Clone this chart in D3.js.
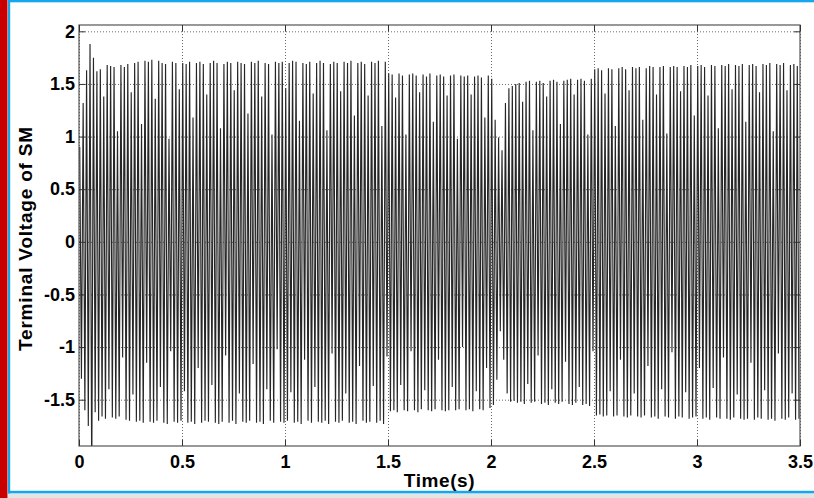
<!DOCTYPE html>
<html>
<head>
<meta charset="utf-8">
<script src="https://cdn.jsdelivr.net/npm/d3@7"></script>
<style>
  html, body { margin: 0; padding: 0; background: #ffffff; }
  svg { display: block; }
  text { font-family: "Liberation Sans", Arial, Helvetica, sans-serif; font-weight: bold; fill: #000; }
</style>
</head>
<body>
<svg id="chart" width="814" height="498"></svg>
<script>
// ---------------- DATA ----------------
const freqHz = 60;              // cycles per second of the voltage waveform
const upperPhase = 0.21;        // fraction of a cycle at which the positive peaks occur
const lowerPhase = 0.71;        // fraction of a cycle at which the negative peaks occur

// positive peak of each cycle (p.u.)
const upperPeaks = [
  0.90, 1.32, 1.63, 1.88, 1.75, 1.62, 1.64, 1.38, 1.68, 1.67,
  1.66, 1.05, 1.68, 1.66, 1.69, 1.42, 1.70, 1.71, 1.12, 1.72,
  1.71, 1.73, 1.36, 1.72, 1.70, 1.69, 0.98, 1.71, 1.70, 1.45,
  1.70, 1.69, 1.71, 1.18, 1.70, 1.71, 1.69, 1.40, 1.70, 1.72,
  1.70, 1.08, 1.69, 1.71, 1.70, 1.44, 1.71, 1.70, 1.69, 1.22,
  1.71, 1.70, 1.72, 1.38, 1.70, 1.69, 1.02, 1.71, 1.70, 1.71,
  1.46, 1.70, 1.72, 1.71, 1.15, 1.70, 1.69, 1.71, 1.41, 1.70,
  1.72, 1.70, 1.06, 1.69, 1.71, 1.70, 1.43, 1.71, 1.70, 1.72,
  1.20, 1.70, 1.71, 1.69, 1.39, 1.71, 1.70, 1.72, 1.10, 1.71,
  1.60, 1.59, 1.37, 1.60, 1.58, 1.02, 1.59, 1.60, 1.58, 1.42,
  1.59, 1.57, 1.60, 1.14, 1.58, 1.59, 1.57, 1.39, 1.58, 1.59,
  0.98, 1.58, 1.57, 1.58, 1.40, 1.57, 1.58, 1.56, 1.18, 1.58,
  1.55, 1.16, 0.99, 0.87, 1.32, 1.46, 1.48, 1.50,
  1.51, 1.33, 1.52, 1.53, 1.06, 1.52, 1.53, 1.51, 1.38, 1.53, 1.54, 1.52,
  1.12, 1.53, 1.54, 1.55, 1.40, 1.54, 1.55, 1.53, 1.02, 1.55,
  1.64, 1.65, 1.63, 1.41, 1.65, 1.64, 1.10, 1.65, 1.66, 1.64,
  1.44, 1.66, 1.65, 1.66, 1.16, 1.65, 1.67, 1.66, 1.40, 1.66,
  1.67, 1.03, 1.66, 1.67, 1.66, 1.43, 1.67, 1.66, 1.68, 1.20,
  1.67, 1.68, 1.66, 1.39, 1.68, 1.67, 1.08, 1.68, 1.67, 1.69,
  1.45, 1.68, 1.67, 1.69, 1.14, 1.68, 1.69, 1.67, 1.42, 1.69,
  1.68, 1.70, 1.05, 1.69, 1.68, 1.70, 1.44, 1.68, 1.69, 1.67
];

// negative peak of each cycle (p.u.)
const lowerPeaks = [
  -1.30, -1.60, -1.75, -2.30, -1.62, -1.70, -1.66, -1.68, -1.40, -1.67,
  -1.68, -1.66, -1.10, -1.69, -1.70, -1.45, -1.71, -1.70, -1.72, -1.15,
  -1.71, -1.72, -1.70, -1.38, -1.72, -1.73, -1.04, -1.71, -1.72, -1.70,
  -1.42, -1.72, -1.71, -1.73, -1.20, -1.72, -1.70, -1.71, -1.36, -1.72,
  -1.73, -1.71, -1.08, -1.72, -1.70, -1.73, -1.44, -1.71, -1.72, -1.70,
  -1.16, -1.72, -1.71, -1.73, -1.40, -1.70, -1.72, -1.02, -1.71, -1.72,
  -1.70, -1.43, -1.72, -1.71, -1.73, -1.12, -1.70, -1.72, -1.38, -1.71,
  -1.72, -1.70, -1.73, -1.06, -1.71, -1.72, -1.70, -1.44, -1.72, -1.71,
  -1.73, -1.18, -1.70, -1.72, -1.71, -1.37, -1.72, -1.70, -1.73, -1.09,
  -1.61, -1.60, -1.62, -1.36, -1.60, -1.61, -1.04, -1.60, -1.62, -1.59,
  -1.41, -1.60, -1.61, -1.59, -1.12, -1.60, -1.61, -1.60, -1.38, -1.60,
  -1.59, -1.00, -1.60, -1.59, -1.61, -1.42, -1.59, -1.60, -1.20, -1.58,
  -1.55, -1.31, -0.85, -1.12, -1.44, -1.52, -1.51, -1.53,
  -1.52, -1.54, -1.35, -1.53, -1.52, -1.08, -1.54, -1.53, -1.55, -1.40, -1.53, -1.54,
  -1.52, -1.14, -1.54, -1.55, -1.53, -1.38, -1.55, -1.54, -1.56, -1.04,
  -1.65, -1.64, -1.66, -1.65, -1.42, -1.66, -1.65, -1.12, -1.66, -1.67,
  -1.65, -1.44, -1.66, -1.67, -1.65, -1.18, -1.67, -1.66, -1.68, -1.40,
  -1.66, -1.67, -1.05, -1.68, -1.66, -1.67, -1.43, -1.68, -1.67, -1.66,
  -1.20, -1.68, -1.67, -1.69, -1.39, -1.67, -1.68, -1.10, -1.68, -1.69,
  -1.67, -1.45, -1.68, -1.69, -1.68, -1.15, -1.69, -1.67, -1.68, -1.41,
  -1.69, -1.68, -1.70, -1.06, -1.68, -1.69, -1.67, -1.44, -1.69, -1.68
];

const xTicks = [0, 0.5, 1, 1.5, 2, 2.5, 3, 3.5];
const xTickLabels = ["0", "0.5", "1", "1.5", "2", "2.5", "3", "3.5"];
const yTicks = [-1.5, -1, -0.5, 0, 0.5, 1, 1.5, 2];
const yTickLabels = ["-1.5", "-1", "-0.5", "0", "0.5", "1", "1.5", "2"];
const xDomain = [0, 3.5];
const yDomain = [-1.94, 2.06];
const xLabel = "Time(s)";
const yLabel = "Terminal Voltage of SM";

// ---------------- LAYOUT ----------------
const W = 814, H = 498;
const plot = { left: 79, right: 800, top: 25, bottom: 446 };

const svg = d3.select("#chart");

// frame decorations (slide border)
svg.append("rect").attr("x", 0).attr("y", 0).attr("width", 7.5).attr("height", H).attr("fill", "#c80000");
svg.append("rect").attr("x", 8).attr("y", 0).attr("width", 2.2).attr("height", 493.5).attr("fill", "#15a6ec");
svg.append("rect").attr("x", 8).attr("y", 0).attr("width", W - 8).attr("height", 2.3).attr("fill", "#15a6ec");
svg.append("rect").attr("x", 8).attr("y", 490.8).attr("width", W - 8).attr("height", 2.6).attr("fill", "#15a6ec");
svg.append("rect").attr("x", 8).attr("y", 494).attr("width", W - 8).attr("height", 4).attr("fill", "#e4e4e4");

const x = d3.scaleLinear().domain(xDomain).range([plot.left, plot.right]);
const y = d3.scaleLinear().domain(yDomain).range([plot.bottom, plot.top]);

// clip
svg.append("defs").append("clipPath").attr("id", "clip")
  .append("rect").attr("x", plot.left).attr("y", plot.top)
  .attr("width", plot.right - plot.left).attr("height", plot.bottom - plot.top);

// grid
const gridX = svg.append("g").attr("transform", `translate(0,${plot.bottom})`)
  .call(d3.axisBottom(x).tickValues(xTicks).tickSize(-(plot.bottom - plot.top)).tickFormat(""));
const gridY = svg.append("g").attr("transform", `translate(${plot.left},0)`)
  .call(d3.axisLeft(y).tickValues(yTicks).tickSize(-(plot.right - plot.left)).tickFormat(""));
[gridX, gridY].forEach(g => {
  g.select(".domain").remove();
  g.selectAll(".tick line").attr("stroke", "#444").attr("stroke-width", 0.8).attr("stroke-dasharray", "1,2");
});

// waveform points (alternating positive / negative peaks)
const pts = [];
upperPeaks.forEach((v, k) => {
  pts.push([(k + upperPhase) / freqHz, v]);
  pts.push([(k + lowerPhase) / freqHz, lowerPeaks[k]]);
});

svg.append("path")
  .datum(pts)
  .attr("clip-path", "url(#clip)")
  .attr("fill", "none")
  .attr("stroke", "#262626")
  .attr("stroke-width", 1.15)
  .attr("stroke-linejoin", "miter")
  .attr("stroke-miterlimit", 1)
  .attr("d", d3.line().x(d => x(d[0])).y(d => y(d[1])));

// axes box
svg.append("rect").attr("x", plot.left).attr("y", plot.top)
  .attr("width", plot.right - plot.left).attr("height", plot.bottom - plot.top)
  .attr("fill", "none").attr("stroke", "#555").attr("stroke-width", 1.2);

const fmtX = v => xTickLabels[xTicks.indexOf(v)];
const fmtY = v => yTickLabels[yTicks.indexOf(v)];

const axB = svg.append("g").attr("transform", `translate(0,${plot.bottom})`)
  .call(d3.axisBottom(x).tickValues(xTicks).tickSizeInner(-6).tickSizeOuter(0).tickPadding(9).tickFormat(fmtX));
const axL = svg.append("g").attr("transform", `translate(${plot.left},0)`)
  .call(d3.axisLeft(y).tickValues(yTicks).tickSizeInner(-6).tickSizeOuter(0).tickPadding(4).tickFormat(fmtY));
const axT = svg.append("g").attr("transform", `translate(0,${plot.top})`)
  .call(d3.axisTop(x).tickValues(xTicks).tickSizeInner(-6).tickSizeOuter(0).tickFormat(""));
const axR = svg.append("g").attr("transform", `translate(${plot.right},0)`)
  .call(d3.axisRight(y).tickValues(yTicks).tickSizeInner(-6).tickSizeOuter(0).tickFormat(""));
[axB, axL, axT, axR].forEach(g => {
  g.select(".domain").remove();
  g.selectAll(".tick line").attr("stroke", "#333").attr("stroke-width", 1);
  g.selectAll(".tick text").attr("font-size", 18).attr("font-weight", "bold")
    .attr("font-family", "'Liberation Sans', Arial, sans-serif").attr("fill", "#000");
});

// axis titles
svg.append("text").attr("x", (plot.left + plot.right) / 2).attr("y", 487)
  .attr("text-anchor", "middle").attr("font-size", 19).attr("letter-spacing", "0.6px")
  .text(xLabel);
svg.append("text")
  .attr("transform", `translate(32,${(plot.top + plot.bottom) / 2 + 3}) rotate(-90)`)
  .attr("text-anchor", "middle").attr("font-size", 19).attr("letter-spacing", "0.8px")
  .text(yLabel);
</script>
</body>
</html>
